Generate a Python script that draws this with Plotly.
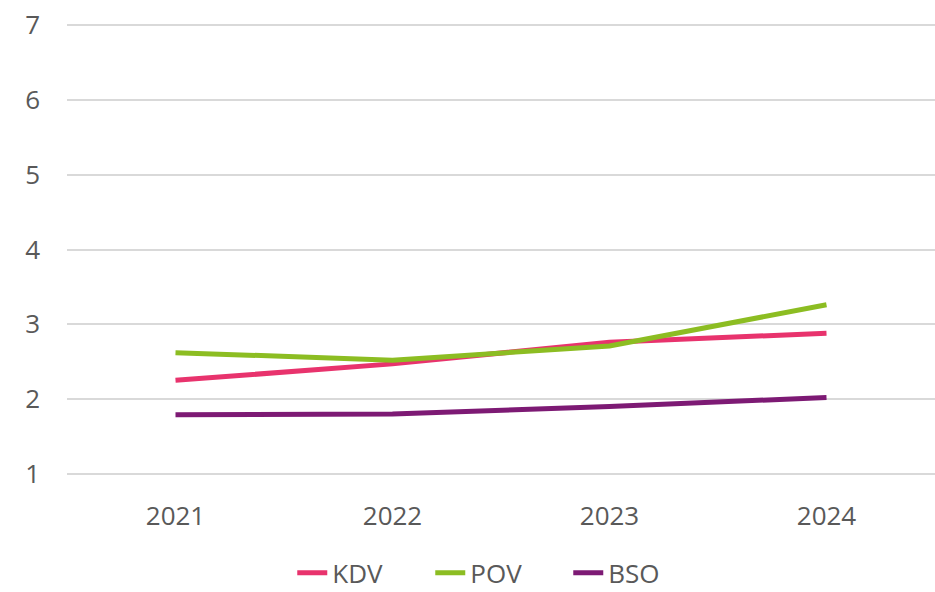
import plotly.graph_objects as go

years = ["2021", "2022", "2023", "2024"]
kdv = [2.25, 2.47, 2.76, 2.88]
pov = [2.62, 2.52, 2.71, 3.26]
bso = [1.79, 1.80, 1.90, 2.02]
y_ticks = [1, 2, 3, 4, 5, 6, 7]

series = [("KDV", kdv, "#E8336D"), ("POV", pov, "#8CBD22"), ("BSO", bso, "#7D1A74")]

fig = go.Figure()
for name, vals, color in series:
    fig.add_trace(go.Scatter(x=years, y=vals, name=name, mode="lines",
                             line=dict(color=color, width=5)))

font_family = "Open Sans, Liberation Sans, sans-serif"
fig.update_layout(
    width=935, height=592,
    margin=dict(l=67, r=0, t=23, b=116, autoexpand=False),
    paper_bgcolor="white", plot_bgcolor="white",
    font=dict(family=font_family, size=26, color="#595959"),
    showlegend=True,
    legend=dict(orientation="h", x=0.498, xanchor="center", y=-0.214, yanchor="middle",
                font=dict(size=26, color="#595959"), entrywidth=93,
                entrywidthmode="pixels"),
    xaxis=dict(type="category", range=[-0.5, 3.5], showgrid=False, showline=False,
               ticks="", tickfont=dict(size=26, color="#595959"), ticklabelstandoff=22,
               automargin=False),
    yaxis=dict(range=[0.97, 7.03], tickvals=y_ticks, showgrid=True, gridcolor="#D9D9D9",
               gridwidth=1.5, zeroline=False, showline=False, ticks="",
               tickfont=dict(size=26, color="#595959"), ticklabelstandoff=26,
               automargin=False),
)

fig.write_html("out.html", config={"displayModeBar": False},
               post_script="document.body.style.margin='0';document.body.style.overflow='hidden';")
